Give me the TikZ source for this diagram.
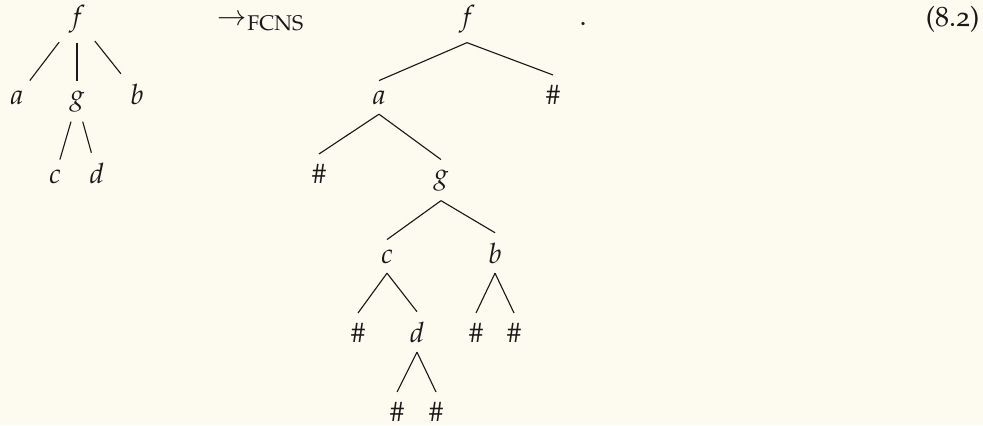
\documentclass[tikz,border=0pt]{standalone}
\usepackage[T1]{fontenc}
\usepackage[osf]{mathpazo}
\usepackage{tikz}
\usetikzlibrary{positioning}
\definecolor{paper}{RGB}{253,251,240}
\definecolor{ink}{RGB}{25,25,25}

\begin{document}
\begin{tikzpicture}[x=0.357pt, y=-0.357pt, lbl/.style={anchor=base, text=ink}, branch/.style={draw=ink, line width=0.4pt}]
    \fill[paper] (0,0) rectangle (983,425);
    \useasboundingbox (0,0) rectangle (983,425);

    % Original tree
    \node[lbl] (lf) at (77,25) {$f$};
    \node[lbl] (la) at (17,104) {$a$};
    \node[lbl] (lg) at (77,104) {$g$};
    \node[lbl] (lb) at (137,104) {$b$};
    \node[lbl] (lc) at (55,183) {$c$};
    \node[lbl] (ld) at (97,183) {$d$};

    \draw[branch] (lf) -- (la);
    \draw[branch] (lf) -- (lg);
    \draw[branch] (lf) -- (lb);
    \draw[branch] (lg) -- (lc);
    \draw[branch] (lg) -- (ld);

    % Mapping
    \node[lbl, anchor=base west, inner sep=0pt] (map) at (217,25) {$\rightarrow_{\mathrm{FCNS}}$};

    % First-child next-sibling tree
    \node[lbl] (rf) at (467,25) {$f$};
    \node[lbl] (ra) at (379,104) {$a$};
    \node[lbl] (rh1) at (553,104) {$\#$};
    \node[lbl] (rh2) at (319,183) {$\#$};
    \node[lbl] (rg) at (441,183) {$g$};
    \node[lbl] (rc) at (387,263) {$c$};
    \node[lbl] (rb) at (495,263) {$b$};
    \node[lbl] (rh3) at (358,342) {$\#$};
    \node[lbl] (rd) at (417,342) {$d$};
    \node[lbl] (rh4) at (476,342) {$\#$};
    \node[lbl] (rh5) at (514,342) {$\#$};
    \node[lbl] (rh6) at (397,421) {$\#$};
    \node[lbl] (rh7) at (436,421) {$\#$};

    \draw[branch] (rf.south) -- (ra.north);
    \draw[branch] (rf.south) -- (rh1.north);
    \draw[branch] (ra.south) -- (rh2.north);
    \draw[branch] (ra.south) -- (rg.north);
    \draw[branch] (rg.south) -- (rc.north);
    \draw[branch] (rg.south) -- (rb.north);
    \draw[branch] (rc.south) -- (rh3.north);
    \draw[branch] (rc.south) -- (rd.north);
    \draw[branch] (rb.south) -- (rh4.north);
    \draw[branch] (rb.south) -- (rh5.north);
    \draw[branch] (rd.south) -- (rh6.north);
    \draw[branch] (rd.south) -- (rh7.north);

    \node[lbl] (stop) at (583,25) {.};
    \node[lbl, anchor=base east, inner sep=0pt] (eqno) at (980,26) {(8.2)};
\end{tikzpicture}
\end{document}
